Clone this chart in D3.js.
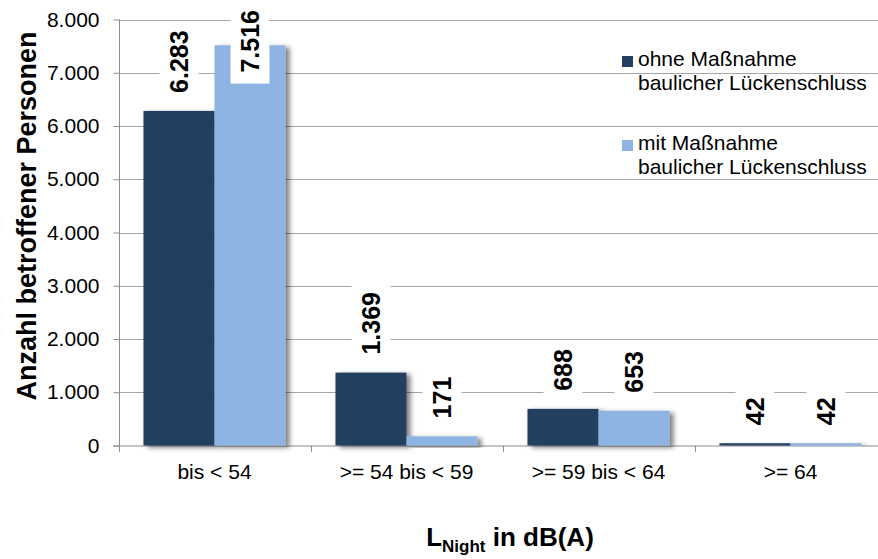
<!DOCTYPE html>
<html>
<head>
<meta charset="utf-8">
<script src="https://cdn.jsdelivr.net/npm/d3@7"></script>
<style>
  body { margin: 0; background: #fff; }
  svg { display: block; font-family: "Liberation Sans", Arial, sans-serif; }
</style>
</head>
<body>
<script>
// values
var categories = ["bis < 54", ">= 54 bis < 59", ">= 59 bis < 64", ">= 64"];
var seriesNames = ["ohne Maßnahme\nbaulicher Lückenschluss", "mit Maßnahme\nbaulicher Lückenschluss"];
var ohneValues = [6283, 1369, 688, 42];
var mitValues = [7516, 171, 653, 42];
var yTicks = [0, 1000, 2000, 3000, 4000, 5000, 6000, 7000, 8000];
var colors = ["#243F60", "#8EB4E3"];

var width = 878,
    height = 559;

var svg = d3.select("body").append("svg")
    .attr("width", width)
    .attr("height", height);

var de = d3.formatLocale({decimal: ",", thousands: ".", grouping: [3], currency: ["", " €"]});
var fmt = de.format(",");

// drop shadow like the office chart
var defs = svg.append("defs");
var f = defs.append("filter").attr("id", "shadow")
    .attr("x", "-20%").attr("y", "-20%").attr("width", "160%").attr("height", "140%");
f.append("feDropShadow")
    .attr("dx", 4).attr("dy", 2)
    .attr("stdDeviation", 2.4)
    .attr("flood-color", "#000")
    .attr("flood-opacity", 0.5);

var y = d3.scaleLinear()
    .domain([0, 8000])
    .range([445.5, 19.5]);

var x0 = d3.scaleBand()
    .domain(categories)
    .range([118.5, 886.5])
    .paddingInner(0.26)
    .paddingOuter(0.13);

var x1 = d3.scaleBand()
    .domain([0, 1])
    .range([0, x0.bandwidth()]);

// gridlines
svg.append("g")
  .selectAll("line")
  .data(yTicks.slice(1))
  .enter().append("line")
    .attr("x1", 119).attr("x2", width)
    .attr("y1", d => Math.round(y(d)) + 0.5)
    .attr("y2", d => Math.round(y(d)) + 0.5)
    .attr("stroke", "#A6A6A6");

// y axis
var yAxis = svg.append("g")
    .attr("transform", "translate(119.5,0)")
    .call(d3.axisLeft(y)
      .tickValues(yTicks)
      .tickSize(6)
      .tickPadding(14)
      .tickFormat(d => fmt(d)));
yAxis.selectAll("path, line").attr("stroke", "#8C8C8C");
yAxis.select(".domain").attr("d", "M0," + y(8000) + "V" + (y(0) + 0.5));
yAxis.selectAll("text")
    .attr("font-size", 21)
    .attr("fill", "#000")
    .attr("font-family", "Liberation Sans, Arial, sans-serif");

// x axis line and ticks
var xAxisG = svg.append("g");
xAxisG.append("line")
    .attr("x1", 113).attr("x2", width)
    .attr("y1", 446).attr("y2", 446)
    .attr("stroke", "#8C8C8C");
xAxisG.selectAll("line.tick")
  .data(d3.range(categories.length + 1))
  .enter().append("line")
    .attr("class", "tick")
    .attr("x1", i => Math.round(x0.range()[0] + i * x0.step()) + 0.5)
    .attr("x2", i => Math.round(x0.range()[0] + i * x0.step()) + 0.5)
    .attr("y1", 446).attr("y2", 452)
    .attr("stroke", "#8C8C8C");
xAxisG.selectAll("text")
  .data(categories)
  .enter().append("text")
    .attr("x", d => x0(d) + x0.bandwidth() / 2)
    .attr("y", 479)
    .attr("text-anchor", "middle")
    .attr("font-size", 21)
    .attr("fill", "#000")
    .text(d => d);

// bars
var rows = categories.map((c, i) => ({cat: c, vals: [ohneValues[i], mitValues[i]]}));
var groups = svg.append("g")
  .selectAll("g")
  .data(rows)
  .enter().append("g")
    .attr("transform", d => `translate(${x0(d.cat)},0)`);

groups.selectAll("rect")
  .data(d => d.vals.map((v, s) => ({v: v, s: s})))
  .enter().append("rect")
    .attr("x", d => x1(d.s))
    .attr("y", d => y(d.v))
    .attr("width", x1.bandwidth())
    .attr("height", d => y(0) - y(d.v))
    .attr("fill", d => colors[d.s])
    .attr("filter", "url(#shadow)");

// value labels, rotated with white box
var labels = svg.append("g");
rows.forEach(function(r) {
  r.vals.forEach(function(v, s) {
    var cx = x0(r.cat) + x1(s) + x1.bandwidth() / 2;
    var lg = labels.append("g");
    var t = lg.append("text")
        .attr("font-size", 25)
        .attr("font-weight", "bold")
        .attr("fill", "#000")
        .attr("dy", "0.35em")
        .text(fmt(v));
    var len = t.node().getComputedTextLength();
    var start = Math.max(y(v) - 18, 10 + len);
    lg.insert("rect", "text")
        .attr("x", -11).attr("y", -19.5)
        .attr("width", len + 18).attr("height", 39)
        .attr("fill", "#fff");
    lg.attr("transform", `translate(${cx},${start}) rotate(-90)`);
  });
});

// legend
var legend = svg.append("g");
var legY = [66, 150];
seriesNames.forEach(function(name, i) {
  legend.append("rect")
      .attr("x", 622).attr("y", legY[i] - 10)
      .attr("width", 11).attr("height", 11)
      .attr("fill", colors[i]);
  var t = legend.append("text")
      .attr("x", 638).attr("y", legY[i])
      .attr("font-size", 21)
      .attr("fill", "#000");
  name.split("\n").forEach(function(line, j) {
    t.append("tspan")
        .attr("x", 638)
        .attr("dy", j === 0 ? 0 : 24)
        .text(line);
  });
});

// axis titles
svg.append("text")
    .attr("transform", "translate(36,216) rotate(-90)")
    .attr("text-anchor", "middle")
    .attr("font-size", 27)
    .attr("font-weight", "bold")
    .attr("fill", "#000")
    .text("Anzahl betroffener Personen");

var xt = svg.append("text")
    .attr("x", 510).attr("y", 546)
    .attr("text-anchor", "middle")
    .attr("font-size", 26)
    .attr("font-weight", "bold")
    .attr("fill", "#000");
xt.append("tspan").text("L");
xt.append("tspan").attr("font-size", 17).attr("dy", 6).text("Night");
xt.append("tspan").attr("dy", -6).text(" in dB(A)");
</script>
</body>
</html>
